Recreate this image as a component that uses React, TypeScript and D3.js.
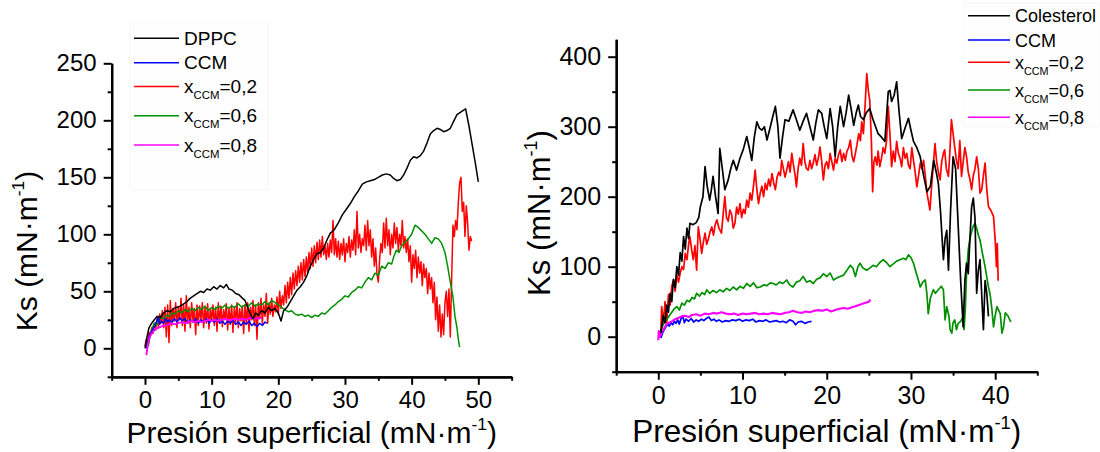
import { useEffect, useRef } from "react";
import { select, scaleLinear, axisBottom, axisLeft, line } from "d3";

type Pt = [number, number];

// ---- left panel: DPPC mixtures ----
const dppc: Pt[] = [
  [0, 0], [0.3, 10], [0.6, 18], [1, 22], [1.4, 25], [1.8, 28], [2.3, 27], [2.8, 31], [3.3, 33], [3.8, 32],
  [4.3, 35], [4.8, 36], [5.3, 37], [5.8, 39], [6.3, 41], [6.8, 44], [7.3, 46], [7.8, 48], [8.3, 50], [8.8, 49],
  [9.3, 52], [9.8, 51], [10.3, 54], [10.8, 52], [11.3, 55], [11.8, 53], [12.2, 56], [12.6, 52], [13.1, 51],
  [13.6, 48], [14.1, 47], [14.6, 44], [15, 42], [15.4, 36], [15.8, 30], [16.2, 26], [16.6, 31], [17, 29],
  [17.5, 33], [18, 31], [18.5, 36], [19, 33], [19.5, 35], [20, 31], [20.4, 24], [20.8, 33], [21.3, 36],
  [21.8, 41], [22.3, 46], [22.8, 51], [23.3, 54], [23.8, 58], [24.3, 64], [24.8, 72], [25.3, 78], [25.8, 83],
  [26.3, 84], [26.8, 88], [27.3, 95], [27.8, 101], [28.4, 104], [29, 110], [29.6, 117], [30.2, 122],
  [30.8, 127], [31.4, 133], [32, 138], [32.6, 144], [33.2, 146], [33.8, 147], [34.4, 148], [35, 150],
  [35.6, 152], [36.2, 153], [36.8, 152], [37.3, 149], [37.8, 147], [38.3, 148], [38.8, 152], [39.3, 158],
  [39.8, 165], [40.3, 168], [40.8, 167], [41.3, 169], [41.8, 173], [42.3, 180], [42.8, 188], [43.3, 191],
  [43.8, 193], [44.3, 192], [44.8, 190], [45.3, 191], [45.8, 193], [46.3, 199], [46.8, 205], [47.3, 207],
  [47.8, 209], [48.1, 210], [48.6, 195], [49.1, 178], [49.6, 161], [50, 146],
];

const dppcX02: Pt[] = [
  [0, 2], [0.2, 8], [0.4, 4], [0.6, 14], [0.8, 10], [1, 18], [1.2, 13], [1.4, 22], [1.6, 16], [1.8, 26], [2, 19],
  [2.2, 30], [2.4, 22], [2.6, 33], [2.8, 18], [3, 36], [3.2, 10], [3.4, 38], [3.6, 5], [3.8, 42], [4, 20],
  [4.2, 35], [4.4, 24], [4.6, 40], [4.8, 18], [5, 36], [5.2, 25], [5.4, 44], [5.6, 20], [5.8, 38], [6, 15],
  [6.2, 46], [6.4, 22], [6.6, 36], [6.8, 18], [7, 40], [7.2, 24], [7.4, 35], [7.6, 12], [7.8, 38], [8, 20],
  [8.2, 37], [8.4, 25], [8.6, 40], [8.8, 18], [9, 36], [9.2, 22], [9.4, 39], [9.6, 17], [9.8, 35], [10, 24],
  [10.2, 38], [10.4, 20], [10.6, 36], [10.8, 15], [11, 40], [11.2, 22], [11.4, 37], [11.6, 19], [11.8, 34],
  [12, 25], [12.2, 39], [12.4, 16], [12.6, 35], [12.8, 21], [13, 38], [13.2, 14], [13.4, 36], [13.6, 23],
  [13.8, 40], [14, 18], [14.2, 35], [14.4, 24], [14.6, 37], [14.8, 13], [15, 38], [15.2, 22], [15.4, 40],
  [15.6, 15], [15.8, 36], [16, 25], [16.2, 42], [16.4, 20], [16.6, 38], [16.8, 8], [17, 40], [17.2, 26],
  [17.4, 44], [17.6, 22], [17.8, 38], [18, 28], [18.2, 48], [18.4, 22], [18.6, 40], [18.8, 30], [19, 44],
  [19.2, 28], [19.4, 38], [19.6, 32], [19.8, 45], [20, 30], [20.2, 50], [20.4, 35], [20.6, 46], [20.8, 38],
  [21, 55], [21.2, 40], [21.4, 58], [21.6, 44], [21.8, 62], [22, 47], [22.2, 66], [22.4, 52], [22.6, 68],
  [22.8, 55], [23, 72], [23.2, 58], [23.4, 75], [23.6, 60], [23.8, 78], [24, 63], [24.2, 80], [24.4, 66],
  [24.6, 84], [24.8, 70], [25, 88], [25.2, 72], [25.4, 90], [25.6, 75], [25.8, 93], [26, 78], [26.2, 95],
  [26.4, 80], [26.6, 98], [26.8, 82], [27, 90], [27.2, 78], [27.4, 92], [27.6, 80], [27.8, 95], [28, 84],
  [28.2, 112], [28.4, 82], [28.6, 96], [28.8, 80], [29, 94], [29.2, 78], [29.4, 92], [29.6, 82], [29.8, 96],
  [30, 76], [30.2, 92], [30.4, 84], [30.6, 98], [30.8, 80], [31, 95], [31.2, 86], [31.4, 104], [31.6, 82],
  [31.8, 120], [32, 88], [32.2, 100], [32.4, 84], [32.6, 96], [32.8, 90], [33, 108], [33.2, 86], [33.4, 112],
  [33.6, 90], [33.8, 104], [34, 80], [34.2, 96], [34.4, 72], [34.6, 88], [34.8, 65], [35, 58], [35.2, 78],
  [35.4, 92], [35.6, 84], [35.8, 110], [36, 88], [36.2, 114], [36.4, 90], [36.6, 104], [36.8, 82], [37, 100],
  [37.2, 88], [37.4, 110], [37.6, 92], [37.8, 106], [38, 86], [38.2, 100], [38.4, 90], [38.6, 112], [38.8, 88],
  [39, 98], [39.2, 84], [39.4, 96], [39.6, 76], [39.8, 90], [40, 58], [40.2, 82], [40.4, 70], [40.6, 86],
  [40.8, 62], [41, 80], [41.2, 66], [41.4, 76], [41.6, 55], [41.8, 74], [42, 62], [42.2, 70], [42.4, 48],
  [42.6, 66], [42.8, 52], [43, 62], [43.2, 40], [43.4, 58], [43.6, 25], [43.8, 45], [44, 15], [44.2, 38],
  [44.4, 10], [44.6, 30], [44.8, 12], [45, 40], [45.2, 50], [45.4, 28], [45.6, 52], [45.8, 10], [46, 60],
  [46.2, 108], [46.4, 98], [46.6, 112], [46.8, 104], [47, 128], [47.2, 145], [47.4, 150], [47.6, 120],
  [47.8, 128], [48, 98], [48.2, 125], [48.4, 110], [48.6, 86], [48.8, 98], [49, 94],
];

const dppcX06: Pt[] = [
  [0.5, 2], [0.8, 12], [1.1, 18], [1.4, 22], [1.7, 20], [2, 25], [2.4, 27], [2.8, 26], [3.2, 29], [3.6, 28],
  [4, 31], [4.5, 30], [5, 33], [5.5, 31], [6, 34], [6.5, 32], [7, 35], [7.5, 33], [8, 36], [8.5, 34], [9, 37],
  [9.5, 33], [10, 36], [10.5, 34], [11, 37], [11.5, 35], [12, 38], [12.5, 35], [13, 37], [13.5, 36], [14, 39],
  [14.5, 36], [15, 38], [15.5, 37], [16, 40], [16.5, 37], [17, 39], [17.5, 38], [18, 41], [18.5, 38], [19, 42],
  [19.5, 40], [20, 38], [20.5, 36], [21, 34], [21.5, 32], [22, 33], [22.5, 30], [23, 29], [23.5, 30], [24, 28],
  [24.5, 29], [25, 27], [25.5, 29], [26, 28], [26.5, 31], [27, 30], [27.5, 33], [28, 36], [28.5, 38], [29, 41],
  [29.5, 43], [30, 46], [30.5, 45], [31, 49], [31.5, 51], [32, 54], [32.5, 53], [33, 58], [33.5, 62], [34, 60],
  [34.5, 66], [35, 64], [35.5, 72], [36, 70], [36.5, 75], [37, 74], [37.3, 80], [37.7, 86], [38.1, 84],
  [38.5, 90], [39, 93], [39.5, 96], [40, 100], [40.5, 108], [41, 106], [41.5, 103], [42, 100], [42.5, 96],
  [43, 92], [43.5, 97], [44, 96], [44.5, 92], [45, 84], [45.4, 72], [45.8, 58], [46.2, 45], [46.5, 28],
  [46.8, 18], [47, 8], [47.2, 1],
];

const ccmLeft: Pt[] = [
  [0.2, 0], [0.4, 6], [0.6, 10], [0.8, 13], [1, 15], [1.2, 17], [1.4, 19], [1.6, 22], [1.8, 24], [2, 28],
  [2.2, 21], [2.5, 24], [2.8, 22], [3.1, 26], [3.4, 23], [3.7, 25], [4, 22], [4.4, 26], [4.8, 23], [5.2, 27],
  [5.6, 24], [6, 26], [6.4, 22], [6.8, 25], [7.2, 23], [7.6, 26], [8, 22], [8.4, 25], [8.8, 23], [9.2, 26],
  [9.6, 22], [10, 25], [10.4, 23], [10.8, 26], [11.2, 22], [11.6, 24], [12, 21], [12.4, 24], [12.8, 22],
  [13.2, 25], [13.6, 21], [14, 23], [14.4, 20], [14.8, 23], [15.2, 21], [15.6, 24], [16, 20], [16.4, 22],
  [16.8, 19], [17.2, 22], [17.6, 20], [18, 23], [18.3, 22],
];

const dppcX08: Pt[] = [
  [0.2, -6], [0.4, 2], [0.6, 8], [0.8, 11], [1, 13], [1.3, 15], [1.6, 17], [2, 18], [2.4, 19], [2.8, 20],
  [3.2, 20], [3.6, 21], [4, 22], [4.5, 21], [5, 22], [5.5, 23], [6, 22], [6.5, 23], [7, 24], [7.5, 23], [8, 24],
  [8.5, 23], [9, 24], [9.5, 25], [10, 24], [10.5, 25], [11, 24], [11.5, 25], [12, 26], [12.5, 25], [13, 25],
  [13.5, 26], [14, 25], [14.5, 26], [15, 25], [15.5, 26], [16, 27], [16.5, 26], [17, 26], [17.5, 27],
];

// ---- right panel: cholesterol mixtures ----
const colesterol: Pt[] = [
  [0.3, 5], [0.4, 14], [0.6, 30], [0.8, 20], [1, 45], [1.2, 35], [1.4, 62], [1.6, 50], [1.8, 82], [2, 70],
  [2.2, 100], [2.4, 88], [2.6, 120], [2.8, 108], [3, 143], [3.2, 125], [3.4, 155], [3.6, 140], [3.75, 162],
  [4.1, 160], [4.5, 163], [4.8, 170], [5, 186], [5.3, 200], [5.55, 243], [5.8, 215], [6.1, 195], [6.3, 210],
  [6.5, 229], [6.8, 200], [7.1, 176], [7.3, 269], [7.6, 240], [7.9, 210], [8.3, 224], [8.6, 240], [8.9, 252],
  [9.3, 238], [9.7, 255], [10.1, 268], [10.5, 286], [10.8, 270], [11.1, 252], [11.4, 285], [11.7, 307],
  [12, 298], [12.3, 295], [12.6, 300], [12.9, 281], [13.2, 295], [13.6, 315], [13.9, 329], [14.2, 300],
  [14.45, 255], [14.75, 285], [15.05, 310], [15.5, 308], [16, 324], [16.4, 310], [16.8, 295], [17.2, 308],
  [17.6, 319], [18, 300], [18.4, 281], [18.7, 305], [19, 324], [19.4, 319], [19.7, 300], [20, 283],
  [20.4, 326], [20.7, 300], [21, 257], [21.3, 300], [21.6, 329], [22, 300], [22.3, 320], [22.6, 345],
  [22.9, 325], [23.2, 302], [23.5, 320], [23.75, 331], [24, 315], [24.35, 310], [24.7, 320], [25.1, 326],
  [25.5, 310], [25.8, 300], [26.1, 290], [26.5, 285], [26.9, 279], [27.3, 350], [27.5, 352], [27.7, 336],
  [28, 345], [28.3, 364], [28.6, 320], [28.9, 283], [29.3, 298], [29.7, 312], [30, 295], [30.3, 279],
  [30.7, 270], [31.1, 257], [31.5, 230], [31.9, 207], [32.3, 215], [32.7, 252], [33, 235], [33.25, 219],
  [33.5, 180], [33.85, 110], [34.05, 140], [34.25, 152], [34.45, 95], [34.7, 180], [35, 257], [35.3, 240],
  [35.6, 160], [35.9, 80], [36.2, 14], [36.4, 80], [36.6, 105], [36.8, 90], [37, 140], [37.2, 185],
  [37.4, 198], [37.6, 170], [37.8, 62], [38, 95], [38.2, 110], [38.4, 60], [38.6, 10], [38.8, 80], [39, 62],
  [39.2, 29],
];

const colX02: Pt[] = [
  [0.3, 5], [0.4, 43], [0.6, 20], [0.8, 50], [1, 19], [1.2, 60], [1.4, 45], [1.6, 72], [1.8, 81], [2, 65],
  [2.2, 88], [2.4, 78], [2.6, 91], [2.8, 100], [3, 96], [3.2, 119], [3.4, 110], [3.6, 132], [3.75, 143],
  [3.95, 125], [4.15, 110], [4.35, 130], [4.55, 95], [4.75, 157], [4.95, 140], [5.15, 119], [5.35, 135],
  [5.55, 148], [5.75, 132], [5.95, 140], [6.15, 150], [6.35, 157], [6.55, 145], [6.75, 160], [6.95, 167],
  [7.2, 155], [7.5, 148], [7.7, 175], [7.9, 200], [8.1, 170], [8.3, 165], [8.5, 181], [8.7, 175], [8.9, 155],
  [9.1, 162], [9.3, 185], [9.5, 175], [9.7, 190], [9.9, 170], [10.1, 182], [10.3, 176], [10.5, 195],
  [10.7, 185], [10.9, 205], [11.1, 195], [11.3, 215], [11.5, 238], [11.7, 210], [11.9, 190], [12.1, 205],
  [12.3, 215], [12.5, 200], [12.7, 219], [12.9, 210], [13.1, 225], [13.3, 215], [13.5, 233], [13.7, 220],
  [13.9, 210], [14.1, 228], [14.3, 235], [14.5, 230], [14.65, 252], [14.85, 240], [15.05, 228], [15.25, 238],
  [15.45, 250], [15.65, 235], [15.85, 262], [16.05, 245], [16.25, 230], [16.4, 214], [16.6, 240], [16.8, 255],
  [17, 245], [17.2, 276], [17.4, 250], [17.6, 240], [17.8, 238], [18, 252], [18.2, 240], [18.4, 248],
  [18.6, 260], [18.8, 245], [19, 255], [19.2, 271], [19.4, 250], [19.6, 224], [19.8, 245], [20, 250],
  [20.2, 240], [20.4, 262], [20.6, 250], [20.8, 238], [21, 255], [21.2, 248], [21.4, 260], [21.6, 267],
  [21.8, 250], [22, 262], [22.2, 252], [22.4, 265], [22.6, 270], [22.8, 281], [23, 258], [23.2, 250],
  [23.4, 262], [23.6, 275], [23.8, 290], [24, 280], [24.15, 307], [24.35, 290], [24.55, 330], [24.75, 376],
  [24.95, 350], [25.1, 338], [25.3, 280], [25.45, 207], [25.6, 250], [25.75, 257], [25.95, 245], [26.1, 265],
  [26.3, 243], [26.5, 255], [26.7, 270], [26.9, 262], [27.1, 280], [27.3, 329], [27.5, 290], [27.7, 243],
  [27.9, 265], [28.1, 250], [28.3, 279], [28.5, 262], [28.7, 255], [28.9, 243], [29.1, 270], [29.3, 255],
  [29.5, 262], [29.7, 245], [29.9, 240], [30.1, 270], [30.3, 252], [30.5, 235], [30.7, 214], [30.9, 230],
  [31.1, 248], [31.3, 240], [31.5, 252], [31.7, 230], [31.9, 205], [32.05, 195], [32.25, 181], [32.45, 215],
  [32.65, 245], [32.85, 276], [33.05, 250], [33.25, 235], [33.45, 224], [33.65, 250], [33.85, 262], [34, 267],
  [34.2, 240], [34.45, 229], [34.6, 260], [34.8, 310], [35, 290], [35.2, 270], [35.4, 252], [35.6, 240],
  [35.8, 280], [36, 229], [36.2, 250], [36.4, 270], [36.6, 257], [36.8, 235], [37, 225], [37.2, 210],
  [37.4, 230], [37.6, 240], [37.8, 257], [38, 240], [38.2, 205], [38.4, 210], [38.6, 230], [38.8, 248],
  [39, 210], [39.2, 186], [39.5, 180], [39.8, 172], [40, 138], [40.15, 100], [40.25, 133], [40.35, 80],
];

const colX06: Pt[] = [
  [0.2, 5], [0.5, 15], [0.8, 22], [1, 24], [1.3, 30], [1.6, 35], [1.9, 40], [2.2, 43], [2.5, 38], [2.8, 48],
  [3.1, 45], [3.4, 52], [3.7, 50], [4, 56], [4.3, 54], [4.55, 62], [4.9, 58], [5.2, 63], [5.5, 60], [5.75, 67],
  [6.1, 62], [6.5, 66], [6.9, 63], [7.3, 67], [7.7, 64], [8.1, 69], [8.5, 66], [8.9, 71], [9.3, 67], [9.7, 72],
  [10.1, 69], [10.5, 76], [10.9, 72], [11.3, 77], [11.7, 70], [12.1, 71], [12.5, 74], [12.9, 73], [13.3, 77],
  [13.65, 76], [14, 74], [14.4, 78], [14.8, 76], [15.25, 81], [15.6, 74], [16, 71], [16.4, 78], [16.8, 80],
  [17.2, 86], [17.6, 78], [18, 80], [18.4, 76], [18.8, 82], [19.2, 84], [19.6, 90], [20, 86], [20.4, 91],
  [20.8, 81], [21.2, 84], [21.6, 86], [22, 88], [22.4, 95], [22.8, 102], [23.1, 98], [23.4, 86], [23.7, 100],
  [23.95, 105], [24.3, 98], [24.75, 95], [25.1, 98], [25.5, 102], [25.9, 100], [26.3, 106], [26.7, 110],
  [27.1, 106], [27.5, 100], [27.9, 104], [28.3, 108], [28.7, 110], [29.1, 112], [29.4, 110], [29.7, 117],
  [30, 113], [30.3, 105], [30.6, 92], [30.9, 80], [31.1, 71], [31.4, 78], [31.7, 81], [31.9, 60], [32.05, 33],
  [32.3, 55], [32.65, 67], [32.9, 62], [33.25, 67], [33.6, 72], [33.85, 67], [34.05, 24], [34.25, 43],
  [34.5, 30], [34.65, 10], [34.85, 5], [35, 20], [35.2, 24], [35.4, 10], [35.6, 19], [35.9, 22], [36.2, 29],
  [36.3, 10], [36.45, 40], [36.6, 90], [36.8, 124], [37, 140], [37.2, 150], [37.4, 158], [37.6, 162],
  [37.8, 155], [38, 145], [38.2, 138], [38.5, 118], [38.8, 100], [39, 85], [39.2, 71], [39.4, 60], [39.6, 40],
  [39.8, 14], [40, 30], [40.2, 43], [40.4, 38], [40.6, 33], [40.8, 5], [41, 15], [41.2, 34], [41.5, 30],
  [41.85, 21],
];

const ccmRight: Pt[] = [
  [0.3, -2], [0.5, 5], [0.7, 10], [0.9, 14], [1.1, 18], [1.3, 15], [1.5, 20], [1.7, 17], [1.9, 22], [2.1, 19],
  [2.3, 24], [2.5, 18], [2.7, 26], [2.9, 30], [3.1, 20], [3.3, 25], [3.6, 22], [3.9, 26], [4.2, 21], [4.5, 24],
  [4.8, 22], [5.1, 25], [5.4, 23], [5.7, 26], [6, 28], [6.3, 23], [6.6, 25], [6.9, 22], [7.2, 24], [7.6, 21],
  [8, 23], [8.4, 22], [8.8, 24], [9.2, 23], [9.6, 25], [10, 22], [10.4, 24], [10.8, 23], [11.2, 25], [11.6, 21],
  [12, 23], [12.4, 22], [12.8, 24], [13.2, 21], [13.6, 22], [14, 23], [14.4, 21], [14.8, 22], [15.2, 20],
  [15.6, 24], [16, 22], [16.3, 17], [16.6, 21], [17, 22], [17.4, 19], [17.8, 21], [18.2, 22],
];

const colX08: Pt[] = [
  [0, -5], [0.05, 8], [0.2, 0], [0.4, 6], [0.6, 10], [0.8, 14], [1, 18], [1.3, 20], [1.6, 22], [2, 25],
  [2.4, 27], [2.8, 29], [3.2, 30], [3.6, 28], [4, 31], [4.5, 32], [5, 30], [5.5, 33], [6, 32], [6.5, 34],
  [7, 33], [7.5, 35], [8, 33], [8.5, 32], [9, 33], [9.5, 31], [10, 33], [10.5, 32], [11, 33], [11.5, 34],
  [12, 32], [12.5, 33], [13, 32], [13.5, 34], [14, 33], [14.5, 32], [15, 34], [15.5, 35], [16, 37], [16.5, 35],
  [17, 34], [17.5, 36], [18, 35], [18.5, 37], [19, 38], [19.5, 37], [20, 39], [20.5, 36], [21, 38], [21.5, 40],
  [22, 41], [22.5, 40], [23, 42], [23.5, 44], [24, 46], [24.5, 48], [25, 50], [25.2, 53],
];

const leftNames = ["DPPC", "CCM", "0,2", "0,6", "0,8"];
const rightNames = ["Colesterol", "CCM", "0,2", "0,6", "0,8"];
const colors = ["#000000", "#0000ff", "#ff0000", "#009000", "#ff00ff"];
const leftXTicks = [0, 10, 20, 30, 40, 50];
const leftXMinor = [-5, 5, 15, 25, 35, 45, 55];
const leftYTicks = [0, 50, 100, 150, 200, 250];
const leftYMinor = [-25, 25, 75, 125, 175, 225];
const rightXTicks = [0, 10, 20, 30, 40];
const rightXMinor = [-5, 5, 15, 25, 35, 45];
const rightYTicks = [0, 100, 200, 300, 400];
const rightYMinor = [-50, 50, 150, 250, 350];

const FONT = "'Liberation Sans', Arial, sans-serif";

type PanelProps = {
  series: Pt[][]; // in legend order
  drawOrder: number[];
  names: string[];
  xDom: [number, number];
  xRange: [number, number];
  xExt: [number, number];
  yDom: [number, number];
  yRange: [number, number];
  yExt: [number, number];
  xTicks: number[];
  xMinor: number[];
  yTicks: number[];
  yMinor: number[];
  tickFont: number;
  xLabelY: number;
  yTitle: { x: number; y: number; size: number };
  xTitle: { y: number; size: number };
  legend: { x0: number; x1: number; tx: number; rows: number[]; size: number; box: number[] };
  lineWidth: number;
};

const Panel = (p: PanelProps) => {
  const axRef = useRef<SVGGElement>(null);
  const x = scaleLinear().domain(p.xDom).range(p.xRange);
  const y = scaleLinear().domain(p.yDom).range(p.yRange);

  useEffect(() => {
    const g = select(axRef.current);
    g.selectAll("*").remove();
    const xs = scaleLinear().domain(p.xExt).range([x(p.xExt[0]), x(p.xExt[1])]);
    const ys = scaleLinear().domain(p.yExt).range([y(p.yExt[0]), y(p.yExt[1])]);
    const x0 = x(p.xExt[0]);
    const yB = y(p.yExt[0]);

    g.append("g").attr("transform", `translate(0,${yB})`)
      .call(axisBottom(xs).tickValues(p.xMinor).tickSize(4).tickSizeOuter(0).tickFormat(() => ""));
    g.append("g").attr("transform", `translate(0,${yB})`)
      .call(axisBottom(xs).tickValues(p.xTicks).tickSize(8).tickPadding(p.xLabelY - 8).tickSizeOuter(0));
    g.append("g").attr("transform", `translate(${x0},0)`)
      .call(axisLeft(ys).tickValues(p.yMinor).tickSize(4).tickSizeOuter(0).tickFormat(() => ""));
    g.append("g").attr("transform", `translate(${x0},0)`)
      .call(axisLeft(ys).tickValues(p.yTicks).tickSize(8).tickPadding(7).tickSizeOuter(0));

    g.selectAll(".domain").attr("stroke", "#000").attr("stroke-width", 2.2);
    g.selectAll(".tick line").attr("stroke", "#000").attr("stroke-width", 2);
    g.selectAll(".tick text")
      .attr("fill", "#000")
      .style("font-family", FONT)
      .style("font-size", `${p.tickFont}px`);
    g.selectAll("g").attr("font-family", null).attr("font-size", null);
  }, []);

  const path = line<Pt>().x((d) => x(d[0])).y((d) => y(d[1]));
  const xMid = (x(p.xExt[0]) + x(p.xExt[1])) / 2;
  const lg = p.legend;

  return (
    <g>
      <rect x={lg.box[0]} y={lg.box[1]} width={lg.box[2]} height={lg.box[3]} fill="#fefefe"
        stroke="#f6f6f6" strokeWidth={1} rx={3} />
      {p.drawOrder.map((i) => (
        <path key={i} d={path(p.series[i]) ?? ""} fill="none" stroke={colors[i]}
          strokeWidth={i === 4 ? p.lineWidth + 0.4 : p.lineWidth} strokeLinejoin="round" />
      ))}
      <g ref={axRef} />
      {p.names.map((n, i) => (
        <g key={n + i}>
          <line x1={lg.x0} x2={lg.x1} y1={lg.rows[i]} y2={lg.rows[i]} stroke={colors[i]} strokeWidth={1.6} />
          {i < 2 ? (
            <text x={lg.tx} y={lg.rows[i] + 6.5} fontSize={lg.size} fontFamily={FONT}>{n}</text>
          ) : (
            <text x={lg.tx} y={lg.rows[i] + 6.5} fontSize={lg.size} fontFamily={FONT}>
              x<tspan dy={6} fontSize={lg.size * 0.6}>CCM</tspan>
              <tspan dy={-6}>={n}</tspan>
            </text>
          )}
        </g>
      ))}
      <text transform={`translate(${p.yTitle.x},${p.yTitle.y}) rotate(-90)`} textAnchor="middle"
        fontSize={p.yTitle.size} fontFamily={FONT}>
        Ks (mN·m<tspan dy={-p.yTitle.size * 0.42} fontSize={p.yTitle.size * 0.58}>-1</tspan>
        <tspan dy={p.yTitle.size * 0.42}>)</tspan>
      </text>
      <text x={xMid} y={p.xTitle.y} textAnchor="middle" fontSize={p.xTitle.size} fontFamily={FONT}>
        Presión superficial (mN·m<tspan dy={-p.xTitle.size * 0.42} fontSize={p.xTitle.size * 0.58}>-1</tspan>
        <tspan dy={p.xTitle.size * 0.42}>)</tspan>
      </text>
    </g>
  );
};

export default function App() {
  return (
    <div style={{ position: "absolute", left: 0, top: 0 }}>
      <svg width={1100} height={452} style={{ display: "block", background: "#fff" }}>
        <Panel
          series={[dppc, ccmLeft, dppcX02, dppcX06, dppcX08]}
          drawOrder={[2, 3, 1, 4, 0]}
          names={leftNames}
          xDom={[0, 50]} xRange={[145, 478.3]} xExt={[-5, 55]}
          yDom={[0, 250]} yRange={[348.3, 63.3]} yExt={[-25, 250]}
          xTicks={leftXTicks} xMinor={leftXMinor} yTicks={leftYTicks} yMinor={leftYMinor}
          tickFont={24} xLabelY={14}
          yTitle={{ x: 37, y: 251, size: 30 }}
          xTitle={{ y: 443, size: 30 }}
          legend={{ x0: 134, x1: 179, tx: 184, rows: [38.3, 62.7, 86.5, 115.7, 145], size: 19, box: [130, 22, 138, 168] }}
          lineWidth={1.5}
        />
        <Panel
          series={[colesterol, ccmRight, colX02, colX06, colX08]}
          drawOrder={[2, 3, 1, 4, 0]}
          names={rightNames}
          xDom={[0, 40]} xRange={[658.3, 995.2]} xExt={[-5, 45]}
          yDom={[0, 400]} yRange={[336.7, 56.7]} yExt={[-50, 425]}
          xTicks={rightXTicks} xMinor={rightXMinor} yTicks={rightYTicks} yMinor={rightYMinor}
          tickFont={25} xLabelY={15}
          yTitle={{ x: 550, y: 213, size: 31 }}
          xTitle={{ y: 442, size: 31.5 }}
          legend={{ x0: 968, x1: 1010, tx: 1015, rows: [15.7, 40, 62.3, 90, 117.3], size: 18, box: [963, 3, 137, 124] }}
          lineWidth={1.7}
        />
      </svg>
    </div>
  );
}
